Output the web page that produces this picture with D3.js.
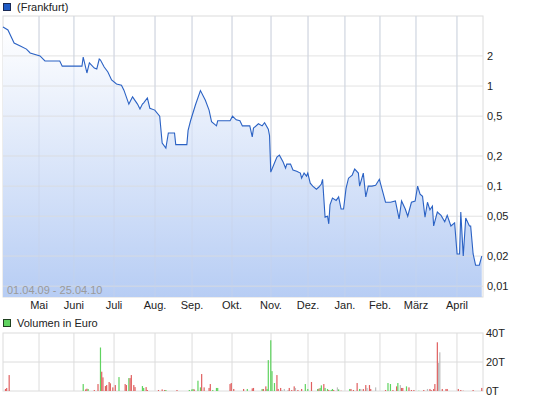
<!DOCTYPE html>
<html><head><meta charset="utf-8">
<script src="https://cdn.jsdelivr.net/npm/d3@7"></script>
<style>body{margin:0;background:#fff}text{font-family:"Liberation Sans",Arial,sans-serif}</style>
</head><body><svg id="c" width="545" height="401"></svg>
<script>
// x axis is a session index from 01.04.09 (0) to 25.04.10 (389)
const sessionCount = 389
const monthLabels = ["Mai","Juni","Juli","Aug.","Sep.","Okt.","Nov.","Dez.","Jan.","Feb.","März","April"]
const monthStarts = [29.2,57.5,90,123.2,153.2,185.6,217.2,247.2,277.1,305.5,334.7,367.9]
const priceTicks = [2, 1, 0.5, 0.2, 0.1, 0.05, 0.02, 0.01]
const priceTickLabels = ["2","1","0,5","0,2","0,1","0,05","0,02","0,01"]
const volTicks = [0, 20, 40]

const priceIdx = [0,4,9,14,19,22,30,34,46,48,64,65,68,70,74,76,78,79,82,85,88,92,96,98,102,105,109,111,113,114,117,119,123,127,129,132,134,139,140,149,150,152,156,160,164,167,169,173,174,184,186,189,192,194,200,202,203,207,210,212,215,216,217,220,222,224,227,229,230,233,235,238,241,242,244,246,247,249,251,254,256,258,259,261,263,264,265,267,270,272,274,276,278,280,283,285,288,289,292,294,296,299,302,305,307,310,314,318,321,323,326,328,331,334,336,338,340,342,344,346,348,349,352,355,358,360,363,366,368,370,371,373,375,378,379,381,383,386,388]
const priceValues = [3.89,3.63,2.69,2.51,2.34,2.14,2.0,1.78,1.78,1.58,1.58,1.95,1.35,1.70,1.51,1.48,1.86,1.82,1.55,1.38,1.15,1.05,1.02,0.91,0.66,0.78,0.66,0.59,0.66,0.68,0.76,0.60,0.575,0.50,0.27,0.24,0.34,0.34,0.26,0.26,0.36,0.45,0.65,0.90,0.72,0.575,0.44,0.40,0.45,0.45,0.50,0.46,0.45,0.40,0.40,0.31,0.38,0.42,0.40,0.43,0.37,0.32,0.138,0.17,0.195,0.204,0.174,0.151,0.166,0.166,0.145,0.141,0.135,0.12,0.135,0.126,0.135,0.107,0.10,0.093,0.098,0.105,0.117,0.049,0.05,0.042,0.065,0.076,0.072,0.078,0.059,0.059,0.095,0.12,0.129,0.148,0.135,0.10,0.135,0.078,0.10,0.10,0.102,0.117,0.095,0.069,0.069,0.071,0.047,0.071,0.059,0.050,0.069,0.071,0.10,0.083,0.079,0.049,0.069,0.058,0.063,0.040,0.055,0.051,0.044,0.051,0.040,0.043,0.021,0.021,0.055,0.020,0.048,0.04,0.04,0.021,0.0162,0.0162,0.020]

const volIdx = [2,3,5,65,67,68,69,74,77,79,80,81,83,84,86,87,89,91,94,99,100,102,103,104,106,107,113,114,116,117,126,129,131,132,141,151,153,154,155,158,160,161,163,167,168,170,173,174,184,185,187,195,198,202,203,210,211,213,214,215,217,218,220,222,223,225,226,228,231,232,234,236,237,239,242,245,247,250,255,256,257,258,260,261,263,264,266,267,268,271,272,274,281,282,284,287,289,290,292,294,295,297,298,302,310,312,314,316,319,320,322,323,324,327,329,331,333,337,341,344,346,347,349,350,352,353,354,356,359,360,369,371,373,381,388]
const volValues = [1.4,2.1,11,4.8,1.1,1.6,1.4,0.7,4.8,30,13.3,9.4,3.4,4.1,6.2,5.3,2.5,4.1,9.6,4.8,4.1,8.9,8.9,11,4.1,2.7,3.4,2.1,2.7,0.7,0.7,1.1,0.7,0.7,0.7,0.7,1.1,1.4,1.1,7.1,2.5,11.7,2.5,2.1,4.8,0.7,2.1,2.1,4.8,5.5,1.4,1.4,1.4,1.8,2.1,1.4,1.4,3.2,1.4,21.3,35,13.7,5.5,11,1.4,2.1,0.7,1.4,0.7,2.1,0.7,3.2,2.1,0.7,1.4,4.8,1.4,6.2,1.4,1.6,2.1,3.9,4.8,2.1,1.4,0.7,0.7,1.4,0.7,2.5,1.1,0.2,1.4,1.4,0.7,5.5,1.4,1.4,1.4,4.1,2.1,4.1,1.4,2.5,0.7,5.5,4.8,0.7,3.2,5.5,4.1,2.1,2.1,3.2,2.5,0.7,0.7,0.2,0.7,1.4,1.4,0.7,1.4,4.8,33.6,19.4,26.7,1.4,1.4,1.4,1.4,0.7,0.2,0.7,2.1]
const volColors = "rrrgrrgrrgrrrrrrrrgrrgrrrrggrrrrrgrgggrggrrrrgggrrrrgrrgrrgggggrrrxxxrrrxrrggrgrggrggrggrxgrgrrrgxrrxrrxrggrrgxrrgrrrgrxrrrrrxxr".split("")

const colorMap = {g: "#5fd35f", r: "#e06060", x: "#bdbdbd"}
const svg = d3.select("#c")
const L = 3, R = 483

const x = d3.scaleLinear().domain([0, sessionCount]).range([L, R])
const y = d3.scaleLog().domain([0.0078, 5.01]).range([297, 16])
const yv = d3.scaleLinear().domain([0, 40]).range([391, 333])

const defs = svg.append("defs")
const grad = defs.append("linearGradient").attr("id", "g").attr("x1", 0).attr("y1", 0).attr("x2", 0).attr("y2", 1)
grad.append("stop").attr("offset", "0%").attr("stop-color", "#ffffff")
grad.append("stop").attr("offset", "100%").attr("stop-color", "#b7cdf4")

// price panel
const grid = "#dcdcdc"
svg.append("rect").attr("x", L).attr("y", 16).attr("width", R - L).attr("height", 281)
  .attr("fill", "none").attr("stroke", grid)
svg.selectAll(".vg").data(monthStarts).join("line")
  .attr("x1", d => x(d)).attr("x2", d => x(d)).attr("y1", 16).attr("y2", 297).attr("stroke", grid)

const pts = priceIdx.map((d, i) => ({i: d, v: priceValues[i]}))
svg.append("path").datum(pts)
  .attr("d", d3.area().x(d => x(d.i)).y0(297).y1(d => y(d.v)))
  .attr("fill", "url(#g)")
svg.selectAll(".hg").data(priceTicks).join("line")
  .attr("x1", L).attr("x2", R).attr("y1", d => y(d)).attr("y2", d => y(d))
  .attr("stroke", grid).attr("stroke-opacity", 0.8)
svg.selectAll(".vg2").data(monthStarts).join("line")
  .attr("x1", d => x(d)).attr("x2", d => x(d)).attr("y1", 16).attr("y2", 297)
  .attr("stroke", "#c8d4ea").attr("stroke-opacity", 0.6)
svg.append("path").datum(pts)
  .attr("d", d3.line().x(d => x(d.i)).y(d => y(d.v)))
  .attr("fill", "none").attr("stroke", "#2b62c4").attr("stroke-width", 1.1)

svg.selectAll(".pt").data(priceTicks).join("text")
  .attr("x", 487).attr("y", d => y(d) + 4).attr("font-size", 11).attr("fill", "#222")
  .text((d, i) => priceTickLabels[i])
svg.selectAll(".ml").data(monthStarts).join("text")
  .attr("x", d => x(d)).attr("y", 309).attr("text-anchor", "middle")
  .attr("font-size", 11).attr("fill", "#222").text((d, i) => monthLabels[i])
svg.append("text").attr("x", 7).attr("y", 294).attr("font-size", 11).attr("fill", "#9a9a9a")
  .text("01.04.09 - 25.04.10")

// legends
svg.append("rect").attr("x", 3.5).attr("y", 3.5).attr("width", 7).attr("height", 7)
  .attr("fill", "#1f5bc6").attr("stroke", "#1a2a55")
svg.append("text").attr("x", 17).attr("y", 11).attr("font-size", 11).attr("fill", "#222").text("(Frankfurt)")
svg.append("rect").attr("x", 3.5).attr("y", 319.5).attr("width", 7).attr("height", 7)
  .attr("fill", "#5fd35f").attr("stroke", "#1f3f1f")
svg.append("text").attr("x", 17).attr("y", 327).attr("font-size", 11).attr("fill", "#222").text("Volumen in Euro")

// volume panel
svg.append("rect").attr("x", L).attr("y", 333).attr("width", R - L).attr("height", 58)
  .attr("fill", "none").attr("stroke", grid)
svg.append("line").attr("x1", L).attr("x2", R).attr("y1", yv(20)).attr("y2", yv(20)).attr("stroke", grid)
svg.selectAll(".vvg").data(monthStarts).join("line")
  .attr("x1", d => x(d)).attr("x2", d => x(d)).attr("y1", 333).attr("y2", 391).attr("stroke", grid)
svg.selectAll(".bar").data(volIdx).join("rect")
  .attr("x", d => x(d) - 0.6).attr("width", 1.2)
  .attr("y", (d, i) => yv(volValues[i])).attr("height", (d, i) => yv(0) - yv(volValues[i]))
  .attr("fill", (d, i) => colorMap[volColors[i]] || colorMap.r)
svg.selectAll(".vt").data(volTicks).join("text")
  .attr("x", 486).attr("y", d => yv(d) + 4).attr("font-size", 11).attr("fill", "#222")
  .text(d => d + "T")
</script></body></html>
